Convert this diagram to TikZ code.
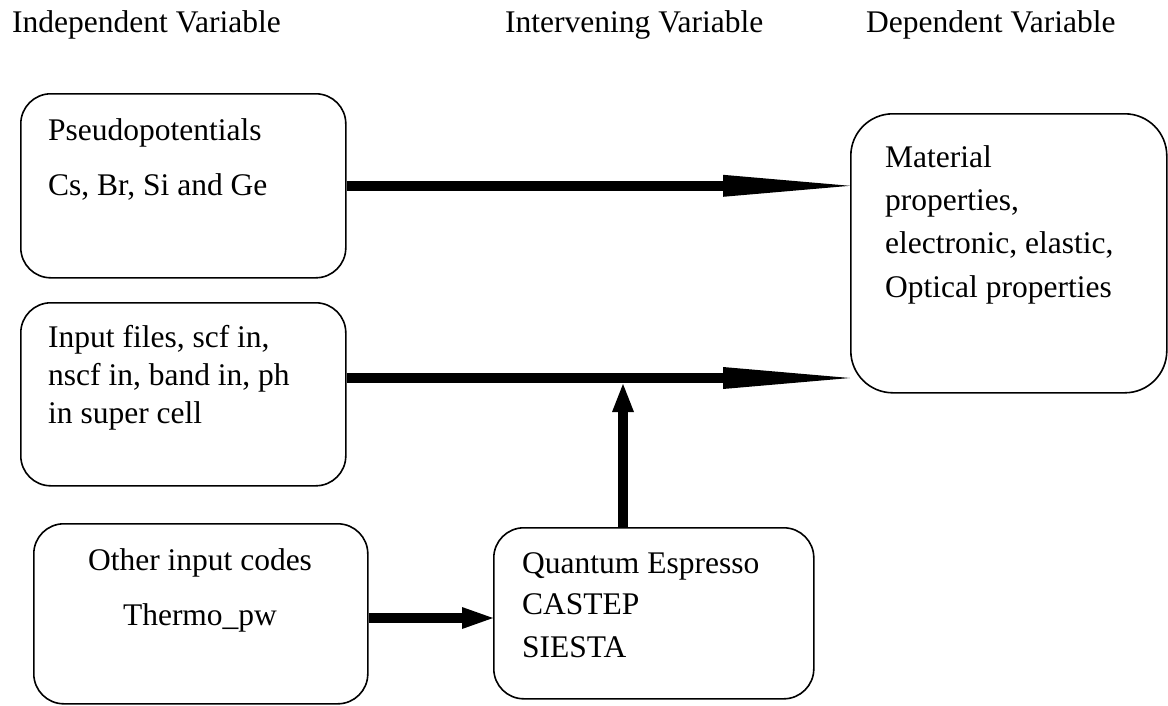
\documentclass[tikz,border=0pt]{standalone}
\usepackage{fontspec}
\setmainfont{Liberation Serif}
\usetikzlibrary{arrows.meta}
\tikzset{
  box/.style={draw, line width=1.6pt, rounded corners=30pt, inner sep=0pt, anchor=north west},
  txt/.style={anchor=base west, inner sep=0pt, font=\fontsize{31.5}{38}\selectfont},
  ctxt/.style={anchor=base, inner sep=0pt, font=\fontsize{31.5}{38}\selectfont},
  longarrow/.style={line width=10.5pt, -{Triangle[length=127pt,width=22pt,line width=0pt 0]}},
  shortarrow/.style={line width=10.5pt, -{Triangle[length=31pt,width=22pt,line width=0pt 0]}},
  uparrow/.style={line width=10.5pt, -{Triangle[length=28pt,width=22pt,line width=0pt 0]}}
}
\begin{document}
\begin{tikzpicture}[x=1pt,y=-1pt]
\useasboundingbox (0,0) rectangle (1168,705);
% headers
\node[txt] (h1) at (12,32) {Independent Variable};
\node[txt] (h2) at (505,32) {Intervening Variable};
\node[txt] (h3) at (866,32) {Dependent Variable};
% boxes
\node[box, minimum width=325pt, minimum height=184pt] (b1) at (20,93) {};
\node[box, minimum width=325pt, minimum height=183pt] (b2) at (20,302) {};
\node[box, minimum width=334pt, minimum height=180pt] (b3) at (33,523) {};
\node[box, minimum width=320pt, minimum height=171pt] (b4) at (493,527) {};
\node[box, rounded corners=42pt, minimum width=316pt, minimum height=279pt] (b5) at (850,113) {};
% texts
\node[txt] (t1a) at (48,140) {Pseudopotentials};
\node[txt] (t1b) at (48,195) {Cs, Br, Si and Ge};
\node[txt] (t2a) at (48,347) {Input files, scf in,};
\node[txt] (t2b) at (48,385) {nscf in, band in, ph};
\node[txt] (t2c) at (48,423) {in super cell};
\node[ctxt] (t3a) at (200,570) {Other input codes};
\node[ctxt] (t3b) at (200,625) {Thermo\_pw};
\node[txt] (t4a) at (522,573) {Quantum Espresso};
\node[txt] (t4b) at (522,614) {CASTEP};
\node[txt] (t4c) at (522,657) {SIESTA};
\node[txt] (t5a) at (885,167) {Material};
\node[txt] (t5b) at (885,210) {properties,};
\node[txt] (t5c) at (885,253) {electronic, elastic,};
\node[txt] (t5d) at (885,297) {Optical properties};
% connectors
\coordinate (j) at (623,378);
\coordinate (jt) at (623,384);
\coordinate (m3) at (400,618);
\draw[longarrow] (b1.east) -- (b1.east -| b5.west);
\draw[longarrow] (b2.east |- j) -- (b5.west |- j);
\draw[uparrow] (b4.north -| j) -- (jt);
\draw[shortarrow] (b3.east |- m3) -- (b4.west |- m3);
\end{tikzpicture}
\end{document}
